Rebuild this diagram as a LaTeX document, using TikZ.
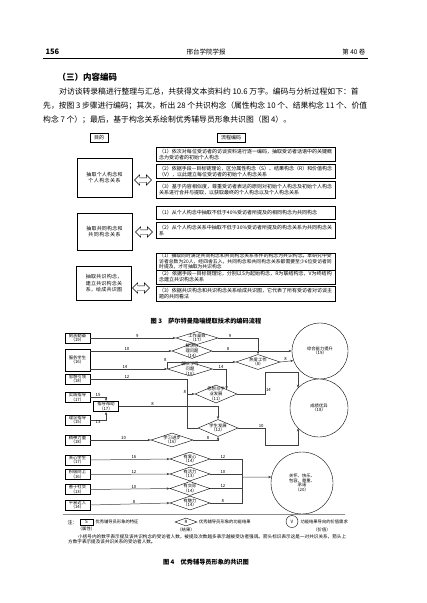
\documentclass[tikz,border=0pt]{standalone}
\usepackage{fontspec}
\setmainfont{Noto Sans CJK SC}
\usetikzlibrary{arrows.meta,shapes,positioning,calc,shadows}
\XeTeXlinebreaklocale "zh"
\XeTeXlinebreakskip=0pt plus 1pt minus 0.3pt

\tikzset{
  shade box/.style={drop shadow={shadow xshift=0.6pt, shadow yshift=-0.6pt, fill=black!65}},
  headbox/.style={draw, fill=white, shade box, minimum height=9pt, inner sep=1.5pt,
    font=\fontsize{5}{6}\selectfont},
  aimbox/.style={draw, fill=white, shade box, minimum width=55pt, text width=41pt,
    align=center, font=\fontsize{5}{6.6}\selectfont},
  stepbox/.style={draw, fill=white, shade box, anchor=north west, minimum width=179pt,
    text width=173pt, inner xsep=3pt, inner ysep=1pt, align=left,
    font=\fontsize{5}{6.1}\selectfont},
  twoway/.style={double arrow, draw, fill=white, minimum height=17pt, inner xsep=0pt,
    inner ysep=2pt, double arrow head extend=3pt},
  attr/.style={draw, fill=white, minimum width=25pt, inner xsep=0.5pt, inner ysep=0.8pt,
    align=center, font=\fontsize{4.3}{4.7}\selectfont},
  cons/.style={diamond, draw, fill=white, inner sep=0pt, minimum width=40pt, minimum height=14pt},
  goal/.style={circle, draw, fill=white, inner sep=0pt},
  inner text/.style={align=center, font=\fontsize{4.3}{4.7}\selectfont, inner sep=0pt},
  link/.style={draw=black!75, line width=0.5pt, -{Stealth[length=3.2pt,width=2.4pt]}},
  bus/.style={draw=black!75, line width=0.5pt},
  num/.style={font=\fontsize{4.3}{5}\selectfont, inner sep=0.6pt},
}

\begin{document}
\begin{tikzpicture}[x=1pt, y=-1pt]
    \fill[white] (0,0) rectangle (427,603);
    \useasboundingbox (0,0) rectangle (427,603);

    % 页眉
    \node[anchor=west, font=\fontsize{7.5}{9}\selectfont\bfseries] (pgno) at (42,52) {156};
    \node[font=\fontsize{6.5}{8}\selectfont] (journal) at (206,52) {邢台学院学报};
    \node[anchor=east, font=\fontsize{6.5}{8}\selectfont] (vol) at (369,52) {第 40 卷};
    \draw[line width=0.6pt] (43,58) -- (368,58);

    % 正文
    \node[anchor=west, font=\fontsize{8.5}{10}\selectfont\bfseries] (sec) at (54,77) {（三）内容编码};
    \node[anchor=west, text width=308pt, align=justify, inner sep=0pt,
          font=\fontsize{7.8}{13}\selectfont] (line1) at (59,92)
          {\parfillskip=0pt 对访谈转录稿进行整理与汇总，共获得文本资料约 10.6 万字。编码与分析过程如下：首};
    \node[anchor=west, text width=324pt, align=justify, inner sep=0pt,
          font=\fontsize{7.8}{13}\selectfont] (line2) at (43,106)
          {\parfillskip=0pt 先，按图 3 步骤进行编码；其次，析出 28 个共识构念（属性构念 10 个、结果构念 11 个、价值};
    \node[anchor=west, inner sep=0pt, font=\fontsize{7.8}{13}\selectfont] (line3) at (43,120)
          {构念 7 个）；最后，基于构念关系绘制优秀辅导员形象共识图（图 4）。};

    % 图3
    \node[headbox, minimum width=18pt] (aimhead) at (99,137.5) {目的};
    \node[headbox, minimum width=28pt] (flowhead) at (231,137.5) {流程编码};

    \node[aimbox, minimum height=39pt] (aim1) at (104.5,177.5) {抽取个人构念和个人构念关系};
    \node[aimbox, minimum height=37pt] (aim2) at (104.5,231.5) {抽取共同构念和共同构念关系};
    \node[aimbox, minimum height=34pt] (aim3) at (104,283.5) {抽取共识构念，建立共识构念关系，绘成共识图};

    \node[twoway] (arr1) at (143,180) {};
    \node[twoway] (arr2) at (144,232) {};
    \node[twoway] (arr3) at (141,288) {};

    \node[stepbox, minimum height=14pt] (s11) at (156,147) {（1）依次对每位受访者的访谈资料进行逐一编码，抽取受访者话语中的关键概念为受访者的初始个人构念};
    \node[stepbox, minimum height=14pt] (s12) at (156,164) {（2）依据手段—目标链理论，区分属性构念（S）、结果构念（R）和价值构念（V），以此建立每位受访者的初始个人构念关系};
    \node[stepbox, minimum height=17pt] (s13) at (156,181) {（3）基于内容相似度，尊重受访者表达的原则对初始个人构念及初始个人构念关系进行合并与提取，以获取最终的个人构念以及个人构念关系};
    \node[stepbox, minimum height=13pt] (s21) at (156,206) {（1）从个人构念中抽取不低于40\%受访者所提及的相同构念为共同构念};
    \node[stepbox, minimum height=16pt] (s22) at (156,222) {（2）从个人构念关系中抽取不低于30\%受访者所提及的构念关系为共同构念关系};
    \node[stepbox, minimum height=15pt, inner ysep=0.4pt, font=\fontsize{4.8}{4.5}\selectfont] (s31) at (156,253) {（1）抽取同时满足共同构念和共同构念关系条件的构念为共识构念。本研究中受访者总数为20人，经四舍五入，共同构念和共同构念关系都需要至少6位受访者同时提及，才可抽取为共识构念};
    \node[stepbox, minimum height=14pt] (s32) at (156,269.5) {（2）依据手段—目标链理论，分别以S为起始构念，R为联结构念，V为终结构念建立共识构念关系};
    \node[stepbox, minimum height=15pt] (s33) at (156,286) {（3）依据共识构念和共识构念关系绘成共识图，它代表了所有受访者对访谈主题的共同看法};

    \node[font=\fontsize{6.2}{7}\selectfont\bfseries] (cap3) at (206,321) {图 3\quad 萨尔特曼隐喻提取技术的编码流程};

    % 图4 属性构念
    \node[attr] (a19) at (77.5,338) {刻苦勤奋\\（19）};
    \node[attr, minimum height=22pt] (a16) at (77.5,360) {服务学生\\（16）};
    \node[attr] (a18) at (77.5,379) {思想引领\\（18）};
    \node[attr] (a17) at (77.5,397.5) {实践指导\\（17）};
    \node[attr] (a15) at (77.5,420) {理论指导\\（15）};
    \node[attr] (b17) at (106,406.5) {指导帮助\\（17）};
    \node[attr] (a18b) at (77.5,440) {精神力量\\（18）};
    \node[attr] (a17b) at (77.5,460) {关心学生\\（17）};
    \node[attr] (a16b) at (77.5,474.5) {积极向上\\（16）};
    \node[attr] (a13) at (77.5,489.5) {善于社交\\（13）};
    \node[attr] (a14) at (77.5,505) {平易近人\\（14）};

    % 结果构念
    \node[cons, minimum width=42pt, minimum height=13pt, label={[inner text]center:工作高效\\（17）}] (r17) at (197,338) {};
    \node[cons, minimum height=15pt, label={[inner text]center:解决心\\理问题\\（14）}] (r14) at (192,351) {};
    \node[cons, minimum width=45pt, label={[inner text]center:解决学习\\问题\\（16）}] (r16) at (190,369) {};
    \node[cons, minimum width=44pt, minimum height=15pt, label={[inner text]center:热爱工作\\（8）}] (r8) at (258,362) {};
    \node[cons, minimum width=42pt, minimum height=18pt, label={[inner text]center:思想与学\\业发展\\（11）}] (r11) at (216,394) {};
    \node[cons, minimum height=17pt, label={[inner text]center:学生发展\\（12）}] (r12) at (218,428) {};
    \node[cons, minimum width=42pt, label={[inner text]center:学习进步\\（16）}] (r16b) at (172,440) {};
    \node[cons, label={[inner text]center:有爱心\\（14）}] (r14b) at (190,459) {};
    \node[cons, label={[inner text]center:有活力\\（13）}] (r13) at (190,474) {};
    \node[cons, label={[inner text]center:有交际\\（14）}] (r14c) at (190,488.5) {};
    \node[cons, label={[inner text]center:有魅力\\（14）}] (r14d) at (190,503) {};

    % 价值构念
    \node[goal, minimum size=56pt, label={[inner text]center:综合能力提升\\（19）}] (v19) at (320,351) {};
    \node[goal, minimum size=58pt, label={[inner text]center:成绩优异\\（18）}] (v18) at (319,408) {};
    \node[goal, minimum size=62pt, label={[inner text]center:关怀、快乐、\\包容、尊重、\\承诺\\（20）}] (v20) at (302,483) {};

    % 关系
    \draw[link] (a19.east) -- node[num, above, pos=0.55] {9} (r17.west);
    \draw[link] (a16.east |- r14.west) -- node[num, above, pos=0.45] {10} (r14.west);
    \draw[link] (a16.east |- r16.west) -- node[num, above, pos=0.45] {14} (r16.west);

    \coordinate (join11) at ($(r11.west)+(-8,0)$);
    \draw[bus] (a18.east) -| node[num, above, pos=0.19] {12} (join11);
    \draw[bus] (r12.west) -| (join11);
    \draw[link] (join11) -- node[num, above left, pos=0] {8} (r11.west);

    \draw[link] (a17.east) -| node[num, above, pos=0.25] {15} (b17.north);
    \draw[link] (a15.east) -| node[num, below, pos=0.25] {13} (b17.south);
    \draw[link] (b17.east) -| node[num, above, pos=0.17] {8} (r12.north);
    \draw[link] (a18b.east) -- node[num, above, pos=0.55] {10} (r16b.west);
    \draw[link] (r16b.east) -| node[num, above, pos=0.3] {8} (r12.south);

    \draw[link] (r12.east) -- node[num, above, pos=0.85] {10} ++(27,0) -- ++(0,17) -| (v18.224);
    \draw[link] (r11.east) -- ++(28,0) -- node[num, right, pos=0.2] {14} ++(0,-22) -| (v18.136);

    \draw[link] (r17.east) -| node[num, above, pos=0.15] {9} (r8.north);
    \draw[link] (r14.east) -- node[num, above, pos=0.2] {8} (r14.east -| v19.west);
    \draw[link] (r8.east) -- node[num, above, pos=0.4] {8} (v19.200);
    \draw[link] (r16.east) -| node[num, above, pos=0.3] {14} (r11.north east);
    \draw[link] (r16.west) -- ++(0,-7) node[num, above left] {8} -- (r8.west);

    \draw[link] (a17b.east) -- node[num, above, pos=0.55] {16} (r14b.west);
    \draw[link] (a16b.east) -- node[num, above, pos=0.55] {12} (r13.west);
    \draw[link] (a13.east) -- node[num, above, pos=0.55] {10} (r14c.west);
    \draw[link] (a14.east) -- node[num, above, pos=0.55] {8} (r14d.west);

    \coordinate (bus20) at (242,477);
    \draw[bus] (r14b.east) -| node[num, above, pos=0.2] {12} (bus20);
    \draw[bus] (r13.east) -| node[num, above, pos=0.2] {10} (bus20);
    \draw[bus] (r14c.east) -| node[num, above, pos=0.2] {12} (bus20);
    \draw[bus] (r14d.east) -| node[num, above, pos=0.2] {8} (bus20);
    \draw[link] (bus20) -- (v20.169);

    % 图例
    \draw[black!45, line width=1pt] (63,514) -- (345,514);
    \node[anchor=west, font=\fontsize{5}{6}\selectfont] (notehead) at (64,523) {注：};
    \node[draw, minimum width=13pt, minimum height=6.5pt, inner sep=0pt, font=\fontsize{4.5}{5}\selectfont] (keyS) at (86.5,522) {S};
    \node[num, below=0.8pt of keyS] (keySt) {（属性）};
    \node[num, right=1.5pt of keyS] (keySx) {优秀辅导员形象的特征};
    \node[cons, minimum width=22pt, minimum height=8pt, label={[inner text]center:R}] (keyR) at (186,522) {};
    \node[num, below=0.8pt of keyR] (keyRt) {（结果）};
    \node[num, right=1pt of keyR] (keyRx) {优秀辅导员形象的功能结果};
    \node[goal, minimum size=12pt, font=\fontsize{4.5}{5}\selectfont] (keyV) at (292,521.5) {V};
    \node[num, right=1.5pt of keyV] (keyVx) {功能结果导向的价值需求};
    \node[num] (keyVt) at (322,529.5) {（价值）};

    \node[anchor=north west, text width=278pt, align=justify, inner sep=0pt,
          font=\fontsize{4.6}{5.4}\selectfont] (notetext) at (68,534)
          {\hspace*{10pt}小括号内的数字表示提及该共识构念的受访者人数，被提及次数越多表示越被受访者强调。箭头标识表示这是一对共识关系，箭头上方数字表示提及该共识关系的受访者人数。};

    \node[font=\fontsize{6.2}{7}\selectfont\bfseries] (cap4) at (206,562) {图 4\quad 优秀辅导员形象的共识图};
\end{tikzpicture}
\end{document}
